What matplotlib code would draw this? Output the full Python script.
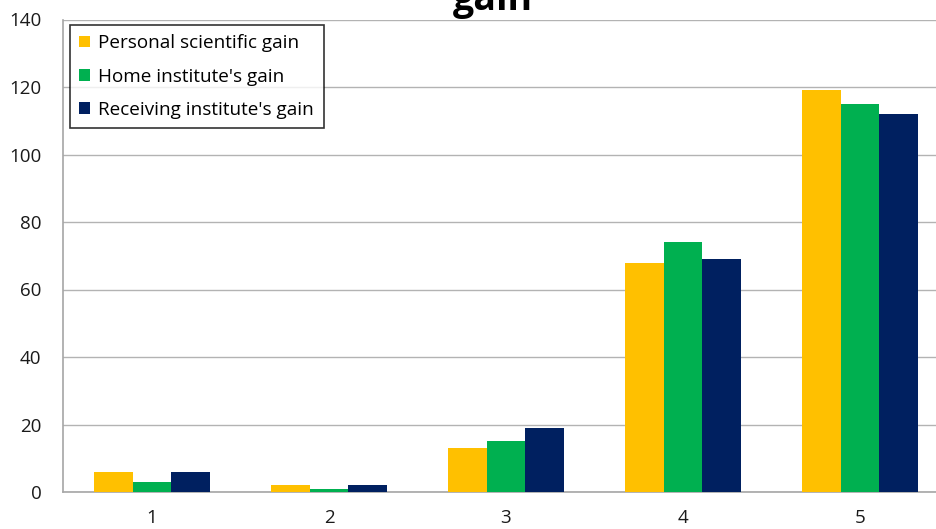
import matplotlib.pyplot as plt
import numpy as np

plt.rcParams['font.family'] = ['Open Sans', 'DejaVu Sans']

categories = ['1', '2', '3', '4', '5']
personal = [6, 2, 13, 68, 119]
home = [3, 1, 15, 74, 115]
receiving = [6, 2, 19, 69, 112]
series_names = ["Personal scientific gain", "Home institute's gain", "Receiving institute's gain"]
colors = ['#FFC000', '#00B050', '#002060']

W, H = 937, 529
fig = plt.figure(figsize=(W / 100, H / 100), dpi=100)
# axes run slightly past the right edge of the canvas
ax = fig.add_axes([63.5 / W, (H - 492) / H, (948.5 - 63.5) / W, (492 - 19.5) / H])

x = np.arange(len(categories))
bw = 0.22
for i, (vals, name, c) in enumerate(zip([personal, home, receiving], series_names, colors)):
    ax.bar(x + (i - 1) * bw, vals, bw, color=c, label=name, zorder=3)

ax.set_xlim(-0.5, len(categories) - 0.5)
ax.set_ylim(0, 140)
ax.set_yticks(range(0, 141, 20))
ax.set_xticks(x)
ax.set_xticklabels(categories)
ax.tick_params(length=0, labelsize=13.5, colors='#1a1a1a')
ax.tick_params(axis='x', pad=12)
ax.tick_params(axis='y', pad=16)
ax.grid(axis='y', color='#b3b3b3', linewidth=1, zorder=0)
for s in ['top', 'right']:
    ax.spines[s].set_visible(False)
for s in ['left', 'bottom']:
    ax.spines[s].set_color('#a6a6a6')
    ax.spines[s].set_linewidth(1.2)

leg = ax.legend(loc='upper left', bbox_to_anchor=(70 / W, 1 - 25 / H), bbox_transform=fig.transFigure,
                fontsize=13.6, frameon=True, fancybox=False, handlelength=0.55, handleheight=0.55,
                handletextpad=0.45, labelspacing=0.8, borderpad=0.5, borderaxespad=0)
leg.get_frame().set_edgecolor('black')
leg.get_frame().set_linewidth(1.2)

fig.text(493 / W, 1 - 10 / H, 'gain', ha='center', va='baseline', fontsize=27, fontweight='bold')

fig.savefig('out.png', dpi=100)
